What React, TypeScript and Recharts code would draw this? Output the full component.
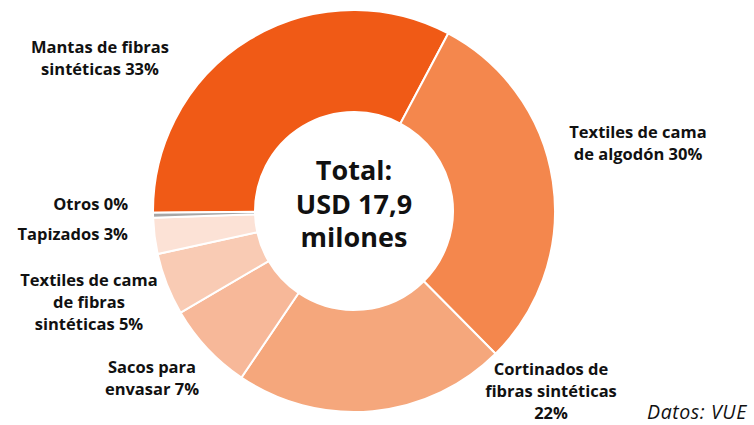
import React from 'react';
import { PieChart, Pie, Cell } from 'recharts';

const categories = [
    'Mantas de fibras sintéticas',
    'Textiles de cama de algodón',
    'Cortinados de fibras sintéticas',
    'Sacos para envasar',
    'Textiles de cama de fibras sintéticas',
    'Tapizados',
    'Otros',
];
const shares = [32.9, 29.8, 21.9, 7.1, 5.0, 2.9, 0.4];
const labelLines = [
    ['Mantas de fibras', 'sintéticas 33%'],
    ['Textiles de cama', 'de algodón 30%'],
    ['Cortinados de', 'fibras sintéticas', '22%'],
    ['Sacos para', 'envasar 7%'],
    ['Textiles de cama', 'de fibras', 'sintéticas 5%'],
    ['Tapizados 3%'],
    ['Otros 0%'],
];
const centerLines = ['Total:', 'USD 17,9', 'milones'];
const colors = ['#F05A16', '#F4874D', '#F5A77C', '#F7B899', '#F9CBB4', '#FCE2D6', '#A6A6A6'];

// label anchor offsets from the pie centre
const labelLayout = [
    { dx: -254, dy: -158, anchor: 'middle' },
    { dx: 284, dy: -73, anchor: 'middle' },
    { dx: 197, dy: 164, anchor: 'middle' },
    { dx: -202, dy: 162, anchor: 'middle' },
    { dx: -265, dy: 75, anchor: 'middle' },
    { dx: -226, dy: 29, anchor: 'end' },
    { dx: -226, dy: -1, anchor: 'end' },
];

const data = categories.map((name, i) => ({ name, value: shares[i] }));

const font = '"Open Sans", sans-serif';

const renderLabel = (props: any) => {
    const { cx, cy, index } = props;
    const pos = labelLayout[index];
    return (
        <g>
            <text
                x={cx + pos.dx}
                y={cy + pos.dy}
                textAnchor={pos.anchor}
                fontFamily={font}
                fontWeight={700}
                fontSize={16.5}
                fill="#111"
            >
                {labelLines[index].map((line, j) => (
                    <tspan key={j} x={cx + pos.dx} dy={j === 0 ? 0 : 22}>{line}</tspan>
                ))}
            </text>
            {index === 0 && (
                <text textAnchor="middle" fontFamily={font} fontWeight={700} fontSize={27} fill="#111">
                    {centerLines.map((line, j) => (
                        <tspan key={j} x={cx} y={cy - 31 + j * 33.5}>{line}</tspan>
                    ))}
                </text>
            )}
        </g>
    );
};

const App = () => {
    return (
        <div style={{ position: 'absolute', left: 0, top: 0, width: 754, height: 425, background: '#fff' }}>
            <PieChart width={754} height={425} margin={{ top: 0, right: 0, bottom: 0, left: 0 }}>
                <Pie
                    data={data}
                    dataKey="value"
                    cx={354}
                    cy={211}
                    innerRadius={99}
                    outerRadius={201}
                    startAngle={180.5}
                    endAngle={-179.5}
                    stroke="#fff"
                    strokeWidth={2}
                    label={renderLabel}
                    labelLine={false}
                    isAnimationActive={false}
                >
                    {data.map((d, i) => (
                        <Cell key={d.name} fill={colors[i]} />
                    ))}
                </Pie>
            </PieChart>
            <div style={{ position: 'absolute', left: 647, top: 398, fontFamily: font, fontStyle: 'italic', fontSize: 19.5, letterSpacing: 0.6, color: '#111' }}>
                Datos: VUE
            </div>
        </div>
    );
};

export default App;
